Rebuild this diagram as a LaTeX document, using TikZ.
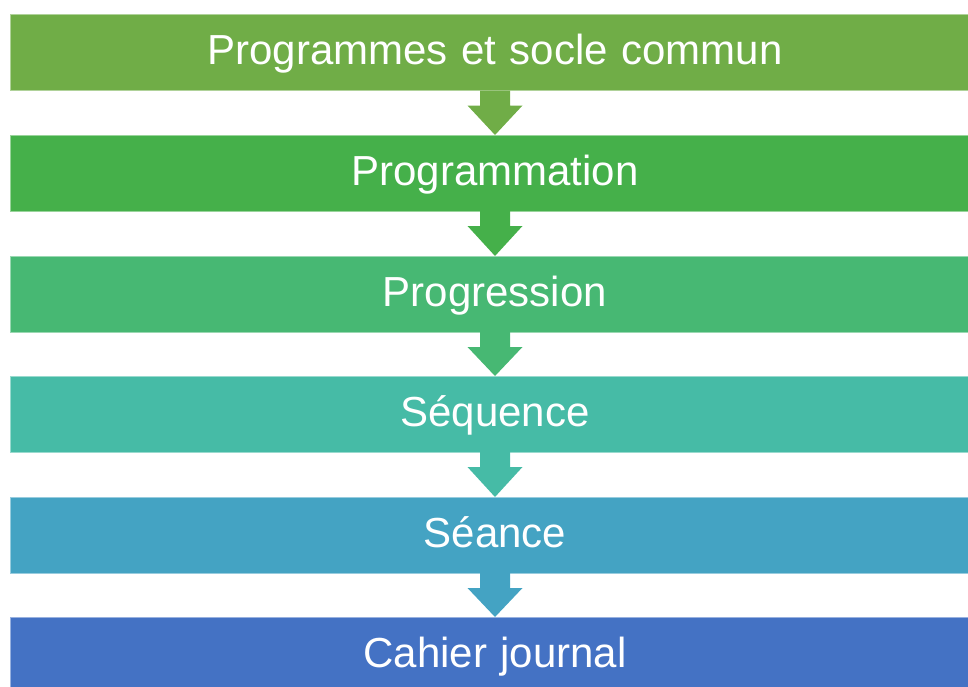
\documentclass[tikz,border=0pt]{standalone}
\usepackage{fontspec}
\setmainfont{Liberation Sans}
\definecolor{cA}{HTML}{70AD47}
\definecolor{cB}{HTML}{45B04A}
\definecolor{cC}{HTML}{47B873}
\definecolor{cD}{HTML}{46BBA6}
\definecolor{cE}{HTML}{44A3C3}
\definecolor{cF}{HTML}{4472C4}
\newcommand\stagefont{\fontsize{42}{48}\selectfont\spaceskip=13.5pt\relax}
\tikzset{
  stage/.style={draw=#1!55!white, line width=0.8pt, fill=#1},
  stagetext/.style={anchor=base, text=white, inner sep=0pt, font=\stagefont},
  downarrow/.style={fill=#1, draw=none},
}
\begin{document}
\begin{tikzpicture}[x=1pt,y=-1pt]
  \useasboundingbox (0,0) rectangle (968,686);
  % stacked stages
  \foreach \n/\top/\col/\txt in {
      1/14.5/cA/{Programmes et socle commun},
      2/135/cB/{Programmation},
      3/256/cC/{Progression},
      4/376/cD/{Séquence},
      5/497/cE/{Séance},
      6/617/cF/{Cahier journal}} {
    \draw[stage=\col] (10.5,\top) rectangle (970,\top+76);
    \coordinate (b\n) at (495,\top+76);
    \coordinate (t\n) at (495,\top);
    \node[stagetext] (s\n) at (495,\top+50) {\txt};
  }
  % block arrows between consecutive stages
  \foreach \a/\b/\col in {1/2/cA,2/3/cB,3/4/cC,4/5/cD,5/6/cE} {
    \fill[downarrow=\col]
      ([xshift=-15pt]b\a) -- ([xshift=15pt]b\a)
      -- ([xshift=15pt,yshift=-15pt]b\a) -- ([xshift=27.5pt,yshift=-15pt]b\a)
      -- (t\b)
      -- ([xshift=-27.5pt,yshift=-15pt]b\a) -- ([xshift=-15pt,yshift=-15pt]b\a)
      -- cycle;
  }
\end{tikzpicture}
\end{document}
